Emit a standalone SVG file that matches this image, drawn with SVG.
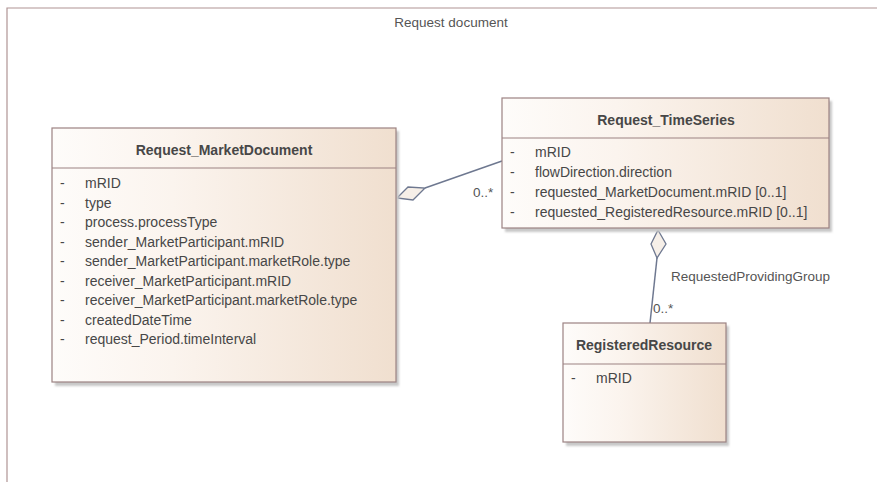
<svg xmlns="http://www.w3.org/2000/svg" width="877" height="482" viewBox="0 0 877 482">
<defs>
<linearGradient id="g" x1="0" y1="0" x2="1" y2="0">
<stop offset="0" stop-color="#fefcfa"/>
<stop offset="0.35" stop-color="#fbf4ee"/>
<stop offset="1" stop-color="#f0dfcf"/>
</linearGradient>
<filter id="sh" x="-5%" y="-5%" width="115%" height="115%">
<feGaussianBlur stdDeviation="1"/>
</filter>
</defs>
<style>
.box{fill:url(#g);stroke:#9c8282;stroke-width:1.2}
.shadow{fill:#c8c8c8;filter:url(#sh)}
.sep{stroke:#9c8282;stroke-width:1.2}
.t{font-family:"Liberation Sans",Arial,sans-serif;font-size:14px;fill:#474747}
.b{font-family:"Liberation Sans",Arial,sans-serif;font-size:14px;font-weight:bold;fill:#474747;text-anchor:middle}
.lbl{font-family:"Liberation Sans",Arial,sans-serif;font-size:13.5px;fill:#555}
.c{stroke:#6e7890;stroke-width:1.5;fill:none}
.dia{fill:#f6efe8;stroke:#6e7890;stroke-width:1.3}
</style>
<rect width="877" height="482" fill="#fff"/>
<g id="frame">
<path d="M7,482 V8 H877" fill="none" stroke="#b09494" stroke-width="1.2"/>
<text x="451" y="27" class="lbl" text-anchor="middle">Request document</text>
</g>
<g id="connectors">
<line class="c" x1="425" y1="188" x2="502" y2="161"/>
<polygon class="dia" points="397,198 408,187 425,188 413,200"/>
<text class="lbl" x="473" y="197">0..*</text>
<line class="c" x1="657" y1="258" x2="650" y2="323"/>
<polygon class="dia" points="658,230 666,244 657,258 651,244"/>
<text class="lbl" x="671" y="281">RequestedProvidingGroup</text>
<text class="lbl" x="653" y="313">0..*</text>
</g>
<g id="Request_MarketDocument">
<rect class="shadow" x="55" y="131" width="344" height="255"/>
<rect class="box" x="52" y="128" width="344" height="254"/>
<line class="sep" x1="52" y1="168" x2="396" y2="168"/>
<text class="b" x="224" y="155">Request_MarketDocument</text>
<g class="t">
<text x="60" y="188">-</text><text x="85" y="188">mRID</text>
<text x="60" y="208">-</text><text x="85" y="208">type</text>
<text x="60" y="227">-</text><text x="85" y="227">process.processType</text>
<text x="60" y="247">-</text><text x="85" y="247">sender_MarketParticipant.mRID</text>
<text x="60" y="266">-</text><text x="85" y="266">sender_MarketParticipant.marketRole.type</text>
<text x="60" y="286">-</text><text x="85" y="286">receiver_MarketParticipant.mRID</text>
<text x="60" y="305">-</text><text x="85" y="305">receiver_MarketParticipant.marketRole.type</text>
<text x="60" y="325">-</text><text x="85" y="325">createdDateTime</text>
<text x="60" y="344">-</text><text x="85" y="344">request_Period.timeInterval</text>
</g>
</g>
<g id="Request_TimeSeries">
<rect class="shadow" x="505" y="101" width="327" height="131"/>
<rect class="box" x="502" y="98" width="327" height="130"/>
<line class="sep" x1="502" y1="138" x2="829" y2="138"/>
<text class="b" x="666" y="125">Request_TimeSeries</text>
<g class="t">
<text x="510" y="157">-</text><text x="535" y="157">mRID</text>
<text x="510" y="177">-</text><text x="535" y="177">flowDirection.direction</text>
<text x="510" y="197">-</text><text x="535" y="197">requested_MarketDocument.mRID [0..1]</text>
<text x="510" y="217">-</text><text x="535" y="217">requested_RegisteredResource.mRID [0..1]</text>
</g>
</g>
<g id="RegisteredResource">
<rect class="shadow" x="566" y="326" width="163" height="120"/>
<rect class="box" x="563" y="323" width="163" height="119"/>
<line class="sep" x1="563" y1="364" x2="726" y2="364"/>
<text class="b" x="644" y="350">RegisteredResource</text>
<g class="t">
<text x="571" y="383">-</text><text x="596" y="383">mRID</text>
</g>
</g>
</svg>
